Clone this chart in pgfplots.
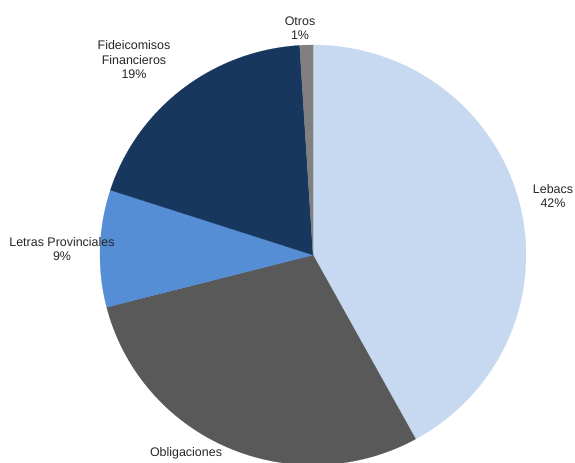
\documentclass[border=0pt]{standalone}
\usepackage{pgfplots}
\pgfplotsset{compat=1.18}
\usepackage{fontspec}
\setmainfont{Liberation Sans}
\definecolor{lebacs}{RGB}{198,217,240}
\definecolor{oblig}{RGB}{89,89,89}
\definecolor{letras}{RGB}{85,142,213}
\definecolor{fidei}{RGB}{23,55,94}
\definecolor{otros}{RGB}{128,128,128}
\begin{document}
\begin{tikzpicture}
\begin{axis}[
  width=575bp, height=463bp, scale only axis,
  xmin=0, xmax=575, ymin=0, ymax=463,
  hide axis, clip=false,
]
\gdef\start{90}
\foreach \p/\c in {42/lebacs,29/oblig,9/letras,19/fidei,1/otros}{
  \pgfmathsetmacro\e{\start-3.6*\p}
  \edef\doplot{\noexpand\addplot[fill=\c, draw=\c, line width=0.2pt, domain=\e:\start, samples=90, variable=\noexpand\t]
     ({313+213*cos(\noexpand\t)},{208+210*sin(\noexpand\t)}) -- (axis cs:313,208) -- cycle;}
  \doplot
  \global\let\start\e
}
\tikzset{lab/.style={align=center, font=\fontsize{12.5}{14.5}\selectfont, text=black!85}}
\node[lab] at (axis cs:300,435) {Otros\\1\%};
\node[lab] at (axis cs:134,403) {Fideicomisos\\Financieros\\19\%};
\node[lab] at (axis cs:62,214) {Letras Provinciales\\9\%};
\node[lab] at (axis cs:553,267) {Lebacs\\42\%};
\node[lab, anchor=south] at (axis cs:186,0) {Obligaciones};
\coordinate (sw) at (axis cs:0,0);
\coordinate (ne) at (axis cs:575,463);
\end{axis}
\pgfresetboundingbox
\path[use as bounding box] (sw) rectangle (ne);
\end{tikzpicture}
\end{document}
